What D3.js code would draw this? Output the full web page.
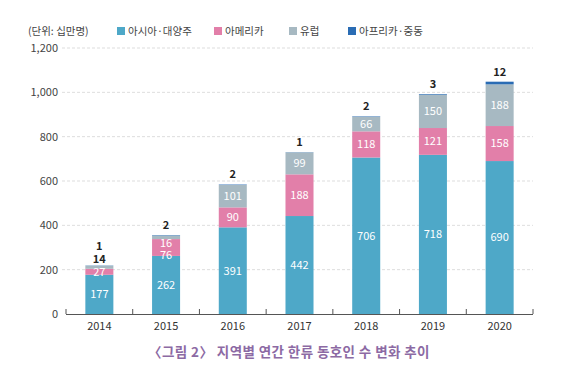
<!DOCTYPE html>
<html><head><meta charset="utf-8">
<script src="https://cdn.jsdelivr.net/npm/d3@7"></script>
<style>body{margin:0;background:#fff;} svg{display:block;font-family:"Noto Sans CJK KR","Noto Sans",sans-serif;}</style>
</head><body><svg id="c" width="567" height="377"></svg>
<script>
const years = ["2014","2015","2016","2017","2018","2019","2020"];
const seriesNames = ["아시아·대양주","아메리카","유럽","아프리카·중동"];
const asia = [177,262,391,442,706,718,690];
const america = [27,76,90,188,118,121,158];
const europe = [14,16,101,99,66,150,188];
const africa = [1,2,2,1,2,3,12];
const yTicks = [0,200,400,600,800,1000,1200];
const colors = ["#4ea8c8","#e27fa9","#a7b9c2","#2a6cb4"];

const svg = d3.select("#c");
const x = d3.scaleBand().domain(years).range([66,533]).paddingInner(0.58).paddingOuter(0.29);
const y = d3.scaleLinear().domain([0,1200]).range([314,48]);

// grid
svg.append("g").selectAll("line").data(yTicks.slice(1)).join("line")
  .attr("x1",62).attr("x2",533).attr("y1",d=>y(d)).attr("y2",d=>y(d))
  .attr("stroke","#d4d4d4").attr("stroke-dasharray","3,2").attr("stroke-width",0.8);

// y labels
svg.append("g").selectAll("text").data(yTicks).join("text")
  .attr("x",58).attr("y",d=>y(d)).attr("dy","0.35em").attr("text-anchor","end")
  .attr("font-size",11).attr("fill","#444").text(d=>d3.format(",")(d));

const data = years.map((yr,i)=>({year:yr, s:[asia[i],america[i],europe[i],africa[i]]}));
const stack = d3.stack().keys([0,1,2,3]).value((d,k)=>d.s[k]);
const layers = stack(data);

svg.append("g").selectAll("g").data(layers).join("g").attr("fill",(d,i)=>colors[i])
  .selectAll("rect").data(d=>d).join("rect")
  .attr("x",d=>x(d.data.year)).attr("width",x.bandwidth())
  .attr("y",d=>y(d[1])).attr("height",d=>y(d[0])-y(d[1]));

// label positions per bar
const cx = d=>x(d.year)+x.bandwidth()/2;
data.forEach((d,i)=>{
  const top = y(layers[3][i][1]);
  const eH = y(layers[2][i][0])-y(layers[2][i][1]);
  const labels = [];
  const aY = y((layers[0][i][0]+layers[0][i][1])/2);
  let pY = y((layers[1][i][0]+layers[1][i][1])/2);
  let eY, eOut=false;
  if (eH >= 12) eY = y((layers[2][i][0]+layers[2][i][1])/2);
  else if (d.s[2] >= 15) { eY = top+8; pY = Math.max(pY, eY+12); }
  else { eY = top-6; eOut=true; }
  labels.push({t:d.s[0],y:aY,c:"#fff",b:false});
  labels.push({t:d.s[1],y:pY,c:"#fff",b:false});
  labels.push({t:d.s[2],y:eY,c:eOut?"#222":"#fff",b:eOut});
  labels.push({t:d.s[3],y:eOut?top-19:top-10,c:"#222",b:true});
  svg.append("g").selectAll("text").data(labels).join("text")
    .attr("x",cx(d)).attr("y",l=>l.y).attr("dy","0.35em").attr("text-anchor","middle")
    .attr("font-size",11).attr("font-weight",l=>l.b?"bold":"normal").attr("fill",l=>l.c).text(l=>l.t);
});

// x axis
svg.append("line").attr("x1",66).attr("x2",533).attr("y1",314.5).attr("y2",314.5).attr("stroke","#555").attr("stroke-width",1.2);
const bounds = d3.range(years.length+1).map(i=>66+i*(467/years.length));
svg.append("g").selectAll("line").data(bounds).join("line")
  .attr("x1",d=>d).attr("x2",d=>d).attr("y1",309).attr("y2",314).attr("stroke","#555");
svg.append("g").selectAll("text").data(years).join("text")
  .attr("x",d=>x(d)+x.bandwidth()/2).attr("y",326).attr("dy","0.35em").attr("text-anchor","middle")
  .attr("font-size",11).attr("fill","#333").text(d=>d);

// legend
svg.append("text").attr("x",28).attr("y",31).attr("dy","0.35em").attr("font-size",10.5).attr("fill","#444").text("(단위: 십만명)");
const lx=[117,214,289,348];
seriesNames.forEach((n,i)=>{
  svg.append("rect").attr("x",lx[i]).attr("y",27).attr("width",8).attr("height",8).attr("fill",colors[i]);
  svg.append("text").attr("x",lx[i]+11).attr("y",31).attr("dy","0.35em").attr("font-size",10.5).attr("fill","#444").text(n);
});

// title
svg.append("text").attr("x",289).attr("y",352).attr("dy","0.35em").attr("text-anchor","middle")
  .attr("font-size",13.5).attr("font-weight","bold").attr("letter-spacing",0.4).attr("fill","#8c6aa4").text("〈그림 2〉 지역별 연간 한류 동호인 수 변화 추이");
</script></body></html>
